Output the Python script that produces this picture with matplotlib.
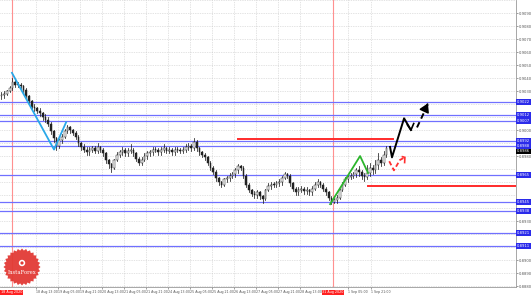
import matplotlib
matplotlib.use("Agg")
import matplotlib.pyplot as plt
from matplotlib.patches import Rectangle, Polygon, Circle
from matplotlib.transforms import blended_transform_factory
import numpy as np

# ---- data (prices in pips: value/10000) ----
closes = [9027, 9028, 9030, 9032, 9037, 9035, 9035, 9034, 9031, 9026,
          9022, 9018, 9017, 9015, 9013, 9010, 9008, 9005, 8999, 8994,
          8988, 8992, 8995, 8999, 9002, 9000, 8998, 8995, 8990, 8987,
          8985, 8983, 8985, 8986, 8984, 8987, 8985, 8982, 8977, 8974,
          8971, 8977, 8981, 8983, 8985, 8982, 8984, 8985, 8982, 8978,
          8975, 8977, 8980, 8982, 8983, 8985, 8985, 8983, 8985, 8986,
          8984, 8985, 8983, 8985, 8985, 8984, 8985, 8987, 8988, 8986,
          8991, 8986, 8983, 8981, 8979, 8975, 8971, 8968, 8963, 8960,
          8958, 8962, 8963, 8965, 8966, 8969, 8972, 8971, 8965, 8958,
          8954, 8951, 8950, 8952, 8949, 8947, 8954, 8957, 8958, 8958,
          8959, 8960, 8963, 8966, 8965, 8959, 8955, 8952, 8954, 8955,
          8953, 8954, 8952, 8955, 8958, 8960, 8958, 8955, 8952, 8948,
          8945, 8946, 8948, 8954, 8958, 8962, 8964, 8965, 8966, 8969,
          8968, 8965, 8964, 8967, 8971, 8969, 8973, 8977, 8975, 8981,
          8986]
highs = [9029, 9030, 9031, 9034, 9040, 9039, 9037, 9036, 9035, 9032,
         9027, 9023, 9020, 9018, 9017, 9014, 9012, 9010, 9006, 9000,
         8995, 8993, 8997, 9001, 9004, 9003, 9001, 8999, 8996, 8991,
         8989, 8987, 8987, 8988, 8988, 8990, 8988, 8986, 8983, 8978,
         8975, 8978, 8983, 8985, 8987, 8986, 8986, 8989, 8986, 8983,
         8979, 8979, 8982, 8984, 8985, 8987, 8987, 8986, 8987, 8989,
         8987, 8987, 8986, 8987, 8987, 8986, 8987, 8989, 8990, 8989,
         8994, 8992, 8987, 8984, 8982, 8980, 8976, 8972, 8969, 8964,
         8961, 8963, 8965, 8967, 8968, 8971, 8974, 8973, 8972, 8966,
         8959, 8955, 8953, 8954, 8953, 8950, 8955, 8959, 8960, 8960,
         8961, 8962, 8965, 8968, 8967, 8966, 8960, 8956, 8956, 8957,
         8956, 8956, 8955, 8957, 8960, 8962, 8961, 8959, 8956, 8953,
         8949, 8948, 8950, 8955, 8960, 8964, 8966, 8967, 8968, 8971,
         8972, 8969, 8967, 8973, 8975, 8973, 8977, 8982, 8979, 8984,
         8988]
lows = [9024, 9025, 9027, 9029, 9031, 9033, 9033, 9032, 9029, 9024,
        9020, 9016, 9015, 9013, 9011, 9008, 9006, 9003, 8997, 8991,
        8985, 8986, 8990, 8994, 8998, 8998, 8996, 8993, 8988, 8985,
        8983, 8981, 8981, 8983, 8982, 8982, 8983, 8980, 8975, 8971,
        8968, 8970, 8976, 8979, 8981, 8980, 8980, 8982, 8980, 8976,
        8973, 8973, 8976, 8978, 8980, 8981, 8983, 8981, 8981, 8983,
        8982, 8982, 8981, 8981, 8983, 8982, 8982, 8983, 8985, 8984,
        8985, 8984, 8981, 8979, 8977, 8973, 8969, 8966, 8961, 8958,
        8956, 8957, 8960, 8961, 8963, 8964, 8967, 8969, 8963, 8956,
        8952, 8949, 8948, 8948, 8947, 8944, 8946, 8953, 8955, 8956,
        8956, 8957, 8958, 8962, 8963, 8957, 8953, 8950, 8950, 8952,
        8951, 8951, 8950, 8950, 8954, 8956, 8956, 8953, 8950, 8946,
        8943, 8944, 8944, 8947, 8953, 8957, 8960, 8962, 8963, 8964,
        8965, 8962, 8961, 8962, 8965, 8966, 8967, 8970, 8972, 8973,
        8979]
first_open = 9026

blue_levels = [9021.6, 9011.6, 9007.0, 8991.6, 8987.7, 8965.4, 8944.7, 8937.7, 8920.8, 8910.8]
red_levels = [8993.1, 8957.0]
red_level_start = [86, 133.3]
red_level_end = [142.4, 190]

cyan_x = [3.8, 19.1, 23.5]
cyan_y = [9044, 8985, 9006]
green_x = [119.5, 130.4, 133.3]
green_y = [8943, 8980, 8967]
black_x = [141.3, 142.0, 146.4, 148.9]
black_y = [8987, 8979, 9009, 9000]
black_dash_x = [151.1, 155.1]
black_dash_y = [9002, 9020]
red_dash_x = [141.0, 142.7, 144.9, 146.7]
red_dash_y = [8976, 8969, 8977, 8979]

vlines_x = [3.8, 120.5]

xtick_pos = [12.5, 20.5, 28.5, 36.5, 44.5, 52.5, 60.5, 68.5, 76.5, 84.5,
             92.5, 100.5, 108.5, 126.0, 134.5]
xtick_labels = ["18 Aug 13:00", "19 Aug 05:00", "19 Aug 21:00", "20 Aug 13:00",
                "21 Aug 05:00", "21 Aug 21:00", "24 Aug 13:00", "25 Aug 05:00",
                "25 Aug 21:00", "26 Aug 13:00", "27 Aug 05:00", "27 Aug 21:00",
                "28 Aug 13:00", "1 Sep 05:00", "1 Sep 21:00"]
red_xlabels = ["18 Aug 2020", "31 Aug 2020"]

ytick_vals = list(range(9100, 8879, -10))

# ---- figure ----
W, H = 531, 295
fig = plt.figure(figsize=(W / 100, H / 100), dpi=100)
fig.patch.set_facecolor("white")
ax = fig.add_axes([0, 8 / H, 516 / W, 287 / H])
ax.set_xlim(-0.545, 187.1)
ax.set_ylim(8879.3, 9100)

# grid
for yv in ytick_vals:
    ax.axhline(yv, color="#c8c8c8", lw=0.5, ls=(0, (1, 1.5)), zorder=0)
for xv in xtick_pos:
    ax.axvline(xv, color="#c8c8c8", lw=0.5, ls=(0, (1, 1.5)), zorder=0)

# vertical red lines
for xv in vlines_x:
    ax.axvline(xv, color="#ff9090", lw=0.8, zorder=1)

# horizontal levels
for lv in blue_levels:
    ax.axhline(lv, color="#7070ff", lw=0.9, zorder=2)
for lv, s, e in zip(red_levels, red_level_start, red_level_end):
    ax.plot([s, e], [lv, lv], color="#ff2a2a", lw=1.4, zorder=3)

# candles
opens = [first_open] + closes[:-1]
for i, (o, h, l, c) in enumerate(zip(opens, highs, lows, closes)):
    ax.plot([i, i], [l, h], color="#222222", lw=0.55, zorder=4)
    bottom = min(o, c)
    height = max(abs(c - o), 0.4)
    face = "white" if c > o else "#222222"
    ax.add_patch(Rectangle((i - 0.28, bottom), 0.56, height, facecolor=face,
                           edgecolor="#222222", lw=0.35, zorder=5))

# drawings
ax.plot(cyan_x, cyan_y, color="#2aa8e8", lw=1.3, zorder=6)
ax.plot(green_x, green_y, color="#2cb52c", lw=1.3, zorder=6)
ax.plot(black_x, black_y, color="black", lw=1.4, zorder=6)
ax.plot([147.6, 148.9, 149.9], [9004, 9000, 9005], color="black", lw=1.2, zorder=6)
ax.plot(black_dash_x, black_dash_y, color="black", lw=1.4, ls=(0, (3, 2)), zorder=6)
ax.annotate("", xy=(black_dash_x[1] + 0.4, black_dash_y[1] + 2.5),
            xytext=(black_dash_x[1] - 0.6, black_dash_y[1] - 2),
            arrowprops=dict(arrowstyle="-|>,head_length=0.5,head_width=0.3", color="black", lw=1.2),
            zorder=7)
ax.plot(red_dash_x, red_dash_y, color="#ff3030", lw=1.3, ls=(0, (2.5, 1.5)), zorder=6)
ax.plot([145.8, 146.7, 146.6], [8979.5, 8979, 8975], color="#ff3030", lw=1.2, zorder=6)

# axes styling
for s in ["top", "left"]:
    ax.spines[s].set_visible(False)
ax.spines["right"].set_color("#999999")
ax.spines["bottom"].set_color("#999999")
ax.spines["right"].set_linewidth(0.6)
ax.spines["bottom"].set_linewidth(0.6)
ax.yaxis.tick_right()

# hide gray tick labels where a level box sits
box_vals = blue_levels + [closes[-1]]
shown = [v for v in ytick_vals if all(abs(v - b) > 5.5 for b in box_vals) and v < 9100]
ax.set_yticks(shown)
ax.set_yticklabels([f"0.{v:04d}" for v in shown])
ax.tick_params(axis="y", labelsize=2.7, length=1.2, width=0.4, colors="#555555", pad=0.8)
ax.set_xticks(xtick_pos)
ax.set_xticklabels(xtick_labels, ha="left")
ax.tick_params(axis="x", labelsize=2.3, length=1.2, width=0.4, colors="#555555", pad=0.8)

# level labels on right axis
bt = blended_transform_factory(ax.transAxes, ax.transData)
for lv in blue_levels:
    ax.text(1.002, lv, f"0.{int(round(lv)):04d}", transform=bt, fontsize=2.7, color="white",
            va="center", ha="left", clip_on=False, zorder=10,
            bbox=dict(boxstyle="square,pad=0.15", fc="#2b2bea", ec="none"))
ax.text(1.002, closes[-1] - 2.5, f"0.{closes[-1]:04d}", transform=bt, fontsize=2.7,
        color="white", va="center", ha="left", clip_on=False, zorder=11,
        bbox=dict(boxstyle="square,pad=0.15", fc="black", ec="none"))

# red date labels at vertical lines
bx = blended_transform_factory(ax.transData, ax.transAxes)
ax.text(-0.3, -0.012, red_xlabels[0], transform=bx, fontsize=2.4, color="white", ha="left",
        va="top", clip_on=False, zorder=11,
        bbox=dict(boxstyle="square,pad=0.2", fc="#ff2020", ec="none"))
ax.text(vlines_x[1], -0.012, red_xlabels[1], transform=bx, fontsize=2.4, color="white",
        ha="center", va="top", clip_on=False, zorder=11,
        bbox=dict(boxstyle="square,pad=0.2", fc="#ff2020", ec="none"))

# logo overlay in pixel coordinates
ov = fig.add_axes([0, 0, 1, 1], facecolor="none")
ov.set_xlim(0, W)
ov.set_ylim(H, 0)
ov.axis("off")
cx, cy = 22, 267
n = 28
ang = np.linspace(0, 2 * np.pi, 2 * n, endpoint=False)
rad = np.where(np.arange(2 * n) % 2 == 0, 18.5, 16.5)
ov.add_patch(Polygon(np.column_stack([cx + rad * np.cos(ang), cy + rad * np.sin(ang)]),
                     closed=True, fc="#e23a35", ec="none", alpha=0.95))
ov.add_patch(Circle((cx, cy - 4), 3.2, fc="white", ec="none"))
ov.add_patch(Circle((cx, cy - 4), 1.6, fc="#e23a35", ec="none"))
ov.text(cx, cy + 6, "InstaForex", color="white", fontsize=3.8, ha="center", va="center",
        family="DejaVu Serif")

fig.savefig("out.png", dpi=100, facecolor="white")
